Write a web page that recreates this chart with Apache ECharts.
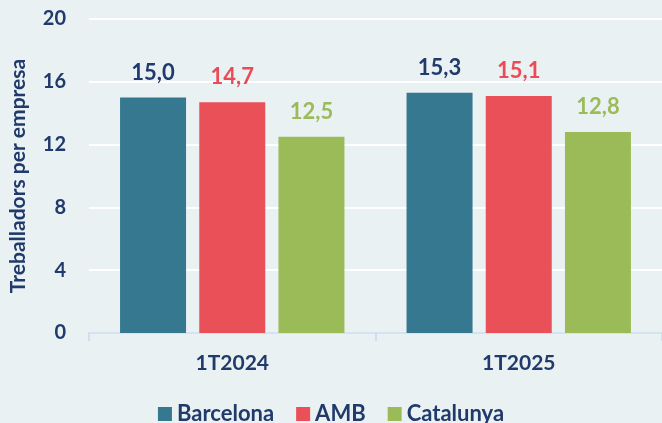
<!DOCTYPE html>
<html>
<head>
<meta charset="utf-8">
<script src="https://cdn.jsdelivr.net/npm/echarts@6/dist/echarts.min.js"></script>
<style>
html,body{margin:0;padding:0;background:#E9F1F3;}
#c{width:662px;height:423px;}
</style>
</head>
<body>
<div id="c"></div>
<script>
const categories = ['1T2024', '1T2025'];
const seriesNames = ['Barcelona', 'AMB', 'Catalunya'];
const barcelona = [15.0, 15.3];
const amb = [14.7, 15.1];
const catalunya = [12.5, 12.8];
const yTicks = [0, 4, 8, 12, 16, 20];
const yTitle = 'Treballadors per empresa';

const navy = '#203A6B';
const barColors = ['#35788F', '#EA5058', '#9BBB59'];
const labelColors = [navy, '#EA4B55', '#9BBB59'];
const font = 'Lato';
const values = [barcelona, amb, catalunya];

const chart = echarts.init(document.getElementById('c'), null, {renderer: 'canvas'});
chart.setOption({
  backgroundColor: '#E9F1F3',
  animation: false,
  textStyle: {fontFamily: font},
  grid: {left: 87, width: 580, top: 19, bottom: 90, containLabel: false},
  legend: {
    data: seriesNames,
    left: 'center',
    top: 398,
    itemWidth: 14,
    itemHeight: 14,
    itemGap: 22,
    icon: 'rect',
    textStyle: {fontFamily: font, fontWeight: 'bold', fontSize: 22, color: navy, padding: [0,0,0,0]}
  },
  xAxis: {
    type: 'category',
    data: categories,
    axisLine: {show: true, lineStyle: {color: '#C8D9EE', width: 1.5}},
    axisTick: {show: true, length: 8, lineStyle: {color: '#C8D9EE', width: 1.5}},
    axisLabel: {margin: 20, fontFamily: font, fontWeight: 'bold', fontSize: 21, color: navy},
    splitLine: {show: false}
  },
  yAxis: {
    type: 'value',
    min: yTicks[0],
    max: yTicks[yTicks.length - 1],
    interval: 4,
    name: yTitle,
    nameLocation: 'middle',
    nameGap: 60,
    nameRotate: 90,
    nameTextStyle: {fontFamily: font, fontWeight: 'bold', fontSize: 21, color: navy},
    axisLine: {show: false},
    axisTick: {show: false},
    axisLabel: {margin: 23, fontFamily: font, fontWeight: 'bold', fontSize: 20, color: navy},
    splitLine: {show: true, lineStyle: {color: '#FFFFFF', width: 2}}
  },
  series: seriesNames.map((n, i) => ({
    name: n,
    type: 'bar',
    data: values[i],
    barWidth: 66,
    barGap: '20%',
    itemStyle: {color: barColors[i]},
    label: {
      show: true,
      position: 'top',
      distance: 14,
      formatter: p => p.value.toFixed(1).replace('.', ','),
      fontFamily: font,
      fontWeight: 'bold',
      fontSize: 22,
      color: labelColors[i]
    }
  }))
});
</script>
</body>
</html>
